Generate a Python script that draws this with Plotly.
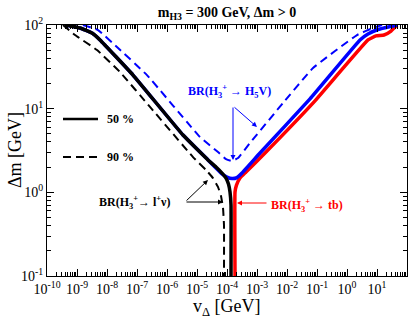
import plotly.graph_objects as go

# curves: v_Delta [GeV] vs Delta m [GeV]
lnu50_v = [4.3e-10, 1.26e-9, 3.16e-9, 5.85e-9, 7.36e-8, 3.41e-6, 2.33e-5, 4.3e-5, 6.81e-5,
           9.26e-5, 1.12e-4, 1.26e-4, 1.36e-4, 1.36e-4]
lnu50_dm = [100, 92, 80, 66.2, 25.2, 4.84, 2.44, 2.01, 1.70, 1.48, 1.26, 1.01, 0.706, 0.1]

lnu90_v = [3.41e-10, 8.58e-10, 4.64e-9, 2.71e-8, 2.71e-7, 7.36e-6, 2.0e-5, 3.41e-5, 5.0e-5,
           6.31e-5, 7.36e-5, 7.94e-5, 7.94e-5]
lnu90_dm = [100, 75.9, 50.2, 27.4, 10.5, 2.64, 1.85, 1.48, 1.16, 0.904, 0.65, 0.407, 0.1]

h5v50_v = [4.3e-10, 1.26e-9, 3.16e-9, 5.85e-9, 7.36e-8, 3.41e-6, 2.33e-5, 4.3e-5, 6.81e-5,
           1e-4, 1.47e-4, 2.15e-4, 3.16e-4, 1.26e-3, 0.0585, 2.71, 5.01, 10.8, 46.4]
h5v50_dm = [100, 92, 80, 66.2, 25.2, 4.84, 2.44, 1.95, 1.66, 1.52, 1.46, 1.50, 1.70, 2.95,
            13.1, 66.2, 78.0, 88.4, 100]

h5v90_v = [1.58e-9, 5.01e-9, 2.15e-8, 2.15e-7, 1.26e-5, 5.01e-5, 9.26e-5, 1.47e-4, 2.33e-4,
           5.85e-4, 7.36e-3, 0.0736, 2.15, 7.36, 14.7]
h5v90_dm = [100, 87.1, 54.6, 25.2, 4.58, 3.03, 2.50, 2.37, 2.57, 3.89, 11.7, 30.6, 75.9, 92.1, 100]

tb50_v = [1.85e-4, 1.85e-4, 2.07e-4, 2.71e-4, 4.3e-4, 1.85e-3, 0.0858, 5.01, 9.26, 17.1, 29.3, 46.4]
tb50_dm = [0.1, 1.01, 1.22, 1.48, 1.75, 2.95, 12.4, 66.2, 74.0, 75.9, 84.7, 100]

x_ticks = [1e-10, 1e-9, 1e-8, 1e-7, 1e-6, 1e-5, 1e-4, 1e-3, 1e-2, 1e-1, 1, 10]
x_labels = ["10<sup>%d</sup>" % e for e in range(-10, 2)]
y_ticks = [0.1, 1, 10, 100]
y_labels = ["10<sup>%d</sup>" % e for e in range(-1, 3)]

fig = go.Figure()

fig.add_trace(go.Scatter(x=tb50_v, y=tb50_dm, mode="lines",
                         line=dict(color="#ff0000", width=3.5, shape="spline", smoothing=0.3)))
fig.add_trace(go.Scatter(x=h5v50_v, y=h5v50_dm, mode="lines",
                         line=dict(color="#0000ff", width=3.5, shape="spline", smoothing=0.3)))
fig.add_trace(go.Scatter(x=h5v90_v, y=h5v90_dm, mode="lines",
                         line=dict(color="#0000ff", width=2, dash="8px,5px", shape="spline", smoothing=0.3)))
fig.add_trace(go.Scatter(x=lnu90_v, y=lnu90_dm, mode="lines",
                         line=dict(color="black", width=2, dash="8px,5px", shape="spline", smoothing=0.3)))
fig.add_trace(go.Scatter(x=lnu50_v, y=lnu50_dm, mode="lines",
                         line=dict(color="black", width=3.5, shape="spline", smoothing=0.3)))

serif = "Liberation Serif, Times New Roman, serif"

axis_common = dict(
    type="log", showgrid=False, zeroline=False, automargin=False,
    showline=True, linecolor="black", linewidth=1, mirror="ticks",
    ticks="inside", ticklen=7, tickcolor="black",
    minor=dict(ticks="inside", ticklen=4, tickcolor="black", dtick="D1"),
    tickfont=dict(family=serif, size=14, color="black"),
)

fig.update_xaxes(axis_common, range=[-10, 2], tickvals=x_ticks, ticktext=x_labels)
fig.update_yaxes(axis_common, range=[-1, 2], tickvals=y_ticks, ticktext=y_labels)

# px -> paper helpers (plot area 47..407 x 25..276)
def px(x):
    return (x - 47) / 360.0

def py(y):
    return (276 - y) / 251.0

def label(x, y, text, color="black", size=12, xanchor="left", **kw):
    fig.add_annotation(xref="paper", yref="paper", x=px(x), y=py(y), text=text,
                       showarrow=False, xanchor=xanchor, yanchor="middle",
                       font=dict(family=serif, size=size, color=color), **kw)

# axis titles
label(227, 307, "v<sub>Δ</sub> [GeV]", size=18, xanchor="center")
label(15, 150, "Δm [GeV]", size=18, xanchor="center", textangle=-90)

# legend
fig.add_shape(type="line", xref="paper", yref="paper", x0=px(63), x1=px(98), y0=py(119), y1=py(119),
              line=dict(color="black", width=2.5))
fig.add_shape(type="line", xref="paper", yref="paper", x0=px(63), x1=px(98), y0=py(157), y1=py(157),
              line=dict(color="black", width=2, dash="8px,5px"))
label(105, 119, "<b>50 %</b>")
label(105, 157, "<b>90 %</b>")

label(186, 91, "<b>BR(H<sub>3</sub><sup>+</sup> → H<sub>5</sub>V)</b>", color="#0000ff")
label(97, 202, "<b>BR(H<sub>3</sub><sup>+</sup>→ l<sup>+</sup>ν)</b>")
label(269, 205, "<b>BR(H<sub>3</sub><sup>+</sup> → tb)</b>", color="#ff0000")

# arrows
arrows = [
    ((233, 106), (233, 160), "#0000ff"),
    ((233, 106), (257, 127), "#0000ff"),
    ((185, 202), (208, 180), "black"),
    ((185, 202), (223, 202), "black"),
    ((268, 203), (237, 203), "#ff0000"),
]
for (tx, ty), (hx, hy), c in arrows:
    fig.add_annotation(xref="paper", yref="paper", x=px(hx), y=py(hy), ax=tx - hx, ay=ty - hy,
                       text="", showarrow=True, arrowhead=2, arrowsize=1, arrowwidth=1, arrowcolor=c)

fig.update_layout(
    width=409, height=323,
    margin=dict(l=47, r=2, t=25, b=47),
    plot_bgcolor="white", paper_bgcolor="white",
    showlegend=False,
    title=dict(text="<b>m<sub>H3</sub> = 300 GeV, Δm > 0</b>", x=227 / 409,
               xanchor="center", y=1 - 12 / 323, yanchor="middle",
               font=dict(family=serif, size=14, color="black")),
)

# body has a default 8px margin; drop it so the figure fills the window exactly
fig.write_html("out.html", config={"displayModeBar": False},
               post_script="document.body.style.margin='0';")
